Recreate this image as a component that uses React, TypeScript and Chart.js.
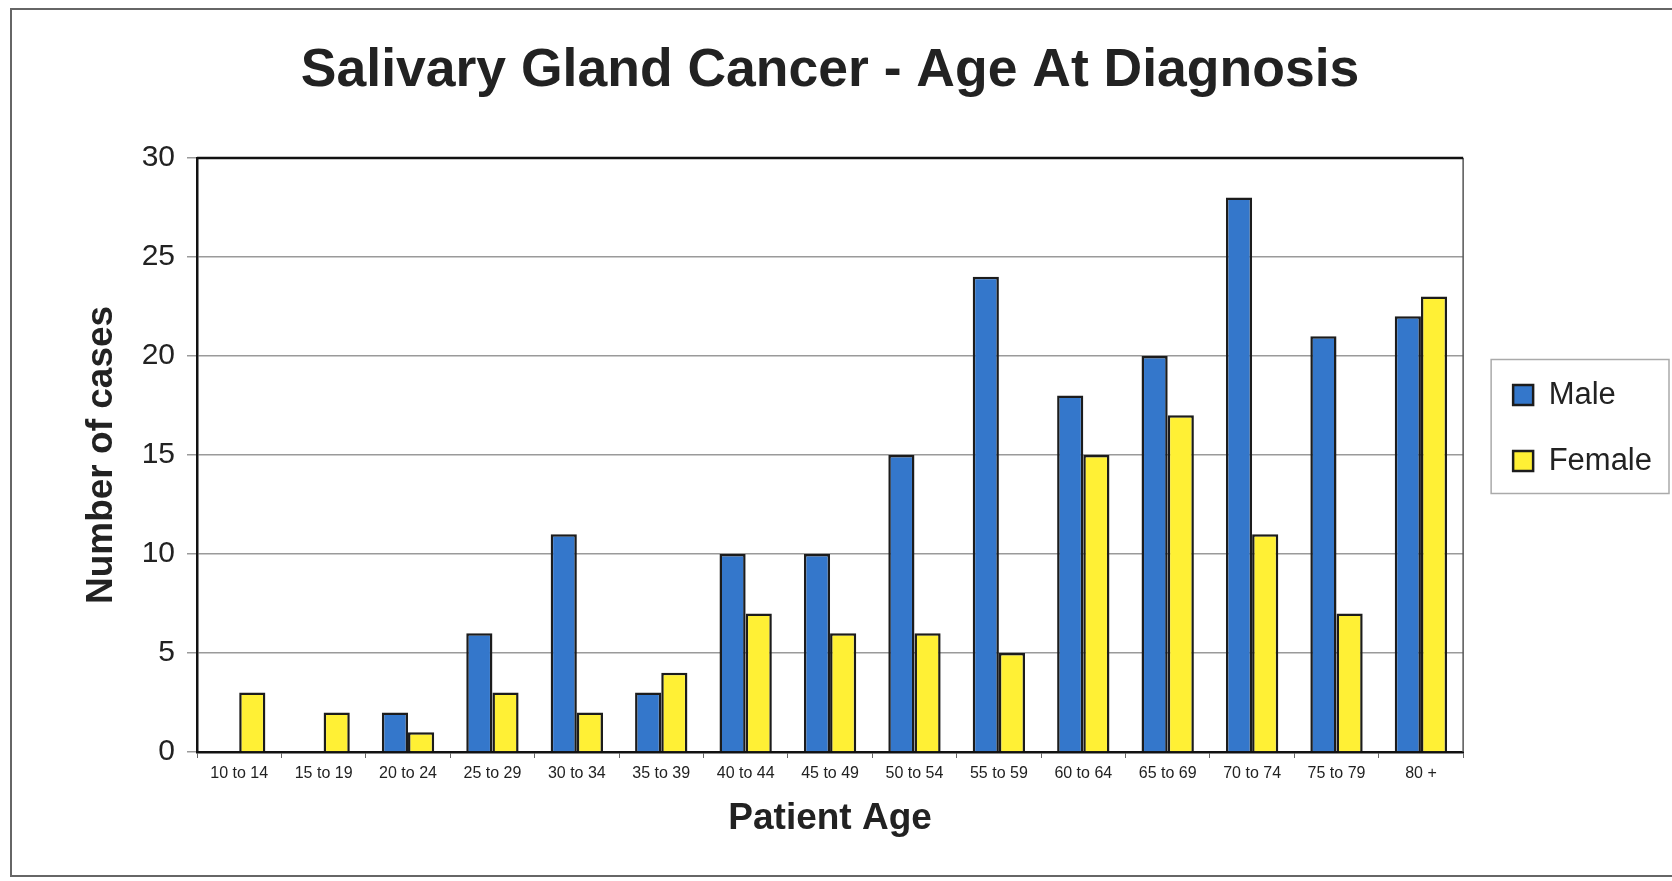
import React, { useEffect, useRef } from "react";
import { Chart, registerables } from "chart.js";

Chart.register(...registerables);

const categories = [
  "10 to 14", "15 to 19", "20 to 24", "25 to 29", "30 to 34", "35 to 39", "40 to 44",
  "45 to 49", "50 to 54", "55 to 59", "60 to 64", "65 to 69", "70 to 74", "75 to 79", "80 +",
];
const maleValues = [0, 0, 2, 6, 11, 3, 10, 10, 15, 24, 18, 20, 28, 21, 22];
const femaleValues = [3, 2, 1, 3, 2, 4, 7, 6, 6, 5, 15, 17, 11, 7, 23];
const yTicks = [0, 5, 10, 15, 20, 25, 30];

const FONT = "'Liberation Sans', Arial, Helvetica, sans-serif";

const framePlugin = {
  id: "frames",
  beforeDatasetsDraw(chart: any) {
    const { ctx, chartArea } = chart;
    ctx.save();
    ctx.strokeStyle = "#555";
    ctx.lineWidth = 1.5;
    ctx.beginPath();
    ctx.moveTo(chartArea.right, chartArea.top);
    ctx.lineTo(chartArea.right, chartArea.bottom);
    ctx.stroke();
    ctx.strokeStyle = "#111";
    ctx.lineWidth = 2.5;
    ctx.beginPath();
    ctx.moveTo(chartArea.left, chartArea.top);
    ctx.lineTo(chartArea.right, chartArea.top);
    ctx.stroke();
    ctx.restore();
  },
  afterDraw(chart: any) {
    const lg = chart.legend;
    if (!lg || !lg.legendHitBoxes || !lg.legendHitBoxes.length) return;
    const hb = lg.legendHitBoxes;
    const first = hb[0];
    const last = hb[hb.length - 1];
    const { ctx } = chart;
    ctx.save();
    ctx.strokeStyle = "#aaa";
    ctx.lineWidth = 1.5;
    const x1 = first.left - 22;
    const x2 = chart.width - 3;
    const y1 = first.top - 20;
    const y2 = last.top + last.height + 17;
    ctx.strokeRect(x1, y1, x2 - x1, y2 - y1);
    ctx.restore();
  },
};

export default function App() {
  const ref = useRef<HTMLCanvasElement>(null);
  useEffect(() => {
    if (!ref.current) return;
    const chart = new Chart(ref.current, {
      type: "bar",
      data: {
        labels: categories,
        datasets: [
          {
            label: "Male",
            data: maleValues,
            backgroundColor: "#3477CB",
            borderColor: "#1c1c1c",
            borderWidth: 2.5,
            categoryPercentage: 0.62,
            barPercentage: 1.0,
          },
          {
            label: "Female",
            data: femaleValues,
            backgroundColor: "#FFF035",
            borderColor: "#1c1c1c",
            borderWidth: 2.5,
            categoryPercentage: 0.62,
            barPercentage: 1.0,
          },
        ],
      },
      options: {
        responsive: false,
        animation: false,
        devicePixelRatio: 1,
        layout: { padding: { left: 80, right: 10, top: 10, bottom: 35 } },
        plugins: {
          title: {
            display: true,
            text: "Salivary Gland Cancer - Age At Diagnosis",
            fullSize: false,
            color: "#222",
            font: { family: FONT, size: 53.5, weight: "bold", lineHeight: 1.2 },
            padding: { top: 29, bottom: 54.7 },
          },
          legend: {
            display: true,
            position: "right",
            align: "center",
            fullSize: true,
            labels: {
              color: "#222",
              font: { family: FONT, size: 31 },
              boxWidth: 20,
              boxHeight: 20,
              padding: 35,
            },
          },
          tooltip: { enabled: false },
        },
        scales: {
          x: {
            offset: true,
            grid: {
              display: true,
              drawOnChartArea: false,
              drawTicks: true,
              tickLength: 6,
              color: "#666",
              offset: true,
            },
            border: { display: true, color: "#111", width: 2.5 },
            ticks: {
              color: "#222",
              font: { family: FONT, size: 16 },
              padding: 6,
              maxRotation: 0,
              autoSkip: false,
            },
            title: {
              display: true,
              text: "Patient Age",
              color: "#222",
              font: { family: FONT, size: 37, weight: "bold", lineHeight: 1.2 },
              padding: { top: 0, bottom: 4.8 },
            },
            afterFit: (s: any) => {
              s.height = 94;
            },
          },
          y: {
            min: 0,
            max: 30,
            afterBuildTicks: (s: any) => {
              s.ticks = yTicks.map((v) => ({ value: v }));
            },
            grid: {
              color: "#9a9a9a",
              lineWidth: 1.5,
              drawTicks: true,
              tickLength: 10,
            },
            border: { display: true, color: "#111", width: 2.5 },
            ticks: {
              color: "#222",
              font: { family: FONT, size: 30 },
              padding: 12,
            },
            title: {
              display: true,
              text: "Number of cases",
              color: "#222",
              font: { family: FONT, size: 37, weight: "bold", lineHeight: 1.2 },
              padding: { top: 0, bottom: 0 },
            },
            afterFit: (s: any) => {
              s.width = 117;
            },
          },
          gap: {
            type: "linear",
            position: "right",
            display: true,
            grid: { display: false },
            border: { display: false },
            ticks: { display: false },
            afterFit: (s: any) => {
              s.width = 15;
            },
          },
        },
      },
      plugins: [framePlugin],
    } as any);
    return () => chart.destroy();
  }, []);

  return (
    <div style={{ position: "absolute", left: 0, top: 0, width: 1672, height: 881, background: "#fff", overflow: "hidden" }}>
      <div
        style={{
          position: "absolute",
          left: 10,
          top: 8,
          width: 1700,
          height: 869,
          border: "2px solid #666",
          borderRight: "none",
          boxSizing: "border-box",
        }}
      />
      <canvas ref={ref} width={1672} height={881} style={{ position: "absolute", left: 0, top: 0, width: 1672, height: 881 }} />
    </div>
  );
}
